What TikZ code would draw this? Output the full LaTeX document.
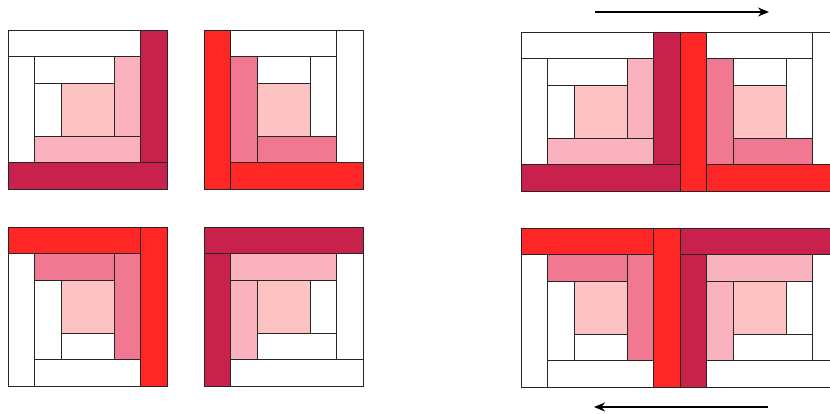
\documentclass[tikz,border=0pt]{standalone}
\usetikzlibrary{arrows.meta}
\definecolor{crim}{HTML}{C8214B}
\definecolor{bred}{HTML}{FF2626}
\definecolor{midp}{HTML}{F07890}
\definecolor{litp}{HTML}{F9B2BE}
\definecolor{ctrp}{HTML}{FDC3C3}
\tikzset{
  patch/.style={draw=black!85, line width=0.7pt},
  flow/.style={line width=1.6pt, -{Stealth[length=11pt,width=9pt]}}
}
\newcommand\patch[5]{\filldraw[patch, fill=#1] (#2,#3) rectangle (#4,#5);}
\newcommand\blockA[2]{\begin{scope}[shift={(#1,#2)}]\begin{scope}[scale=26.5]
 \patch{ctrp}{2}{2}{4}{4}
 \patch{white}{1}{2}{2}{4}
 \patch{white}{1}{1}{4}{2}
 \patch{litp}{4}{1}{5}{4}
 \patch{litp}{1}{4}{5}{5}
 \patch{white}{0}{1}{1}{5}
 \patch{white}{0}{0}{5}{1}
 \patch{crim}{5}{0}{6}{5}
 \patch{crim}{0}{5}{6}{6}
\end{scope}\end{scope}}
\newcommand\blockB[2]{\begin{scope}[shift={(#1,#2)}]\begin{scope}[scale=26.5]
 \patch{ctrp}{2}{2}{4}{4}
 \patch{white}{2}{1}{4}{2}
 \patch{white}{4}{1}{5}{4}
 \patch{midp}{2}{4}{5}{5}
 \patch{midp}{1}{1}{2}{5}
 \patch{white}{1}{0}{5}{1}
 \patch{white}{5}{0}{6}{5}
 \patch{bred}{1}{5}{6}{6}
 \patch{bred}{0}{0}{1}{6}
\end{scope}\end{scope}}
\newcommand\blockC[2]{\begin{scope}[shift={(#1,#2)}]\begin{scope}[scale=26.5]
 \patch{ctrp}{2}{2}{4}{4}
 \patch{white}{1}{2}{2}{5}
 \patch{white}{2}{4}{4}{5}
 \patch{midp}{1}{1}{4}{2}
 \patch{midp}{4}{1}{5}{5}
 \patch{white}{0}{1}{1}{6}
 \patch{white}{1}{5}{5}{6}
 \patch{bred}{0}{0}{5}{1}
 \patch{bred}{5}{0}{6}{6}
\end{scope}\end{scope}}
\newcommand\blockD[2]{\begin{scope}[shift={(#1,#2)}]\begin{scope}[scale=26.5]
 \patch{ctrp}{2}{2}{4}{4}
 \patch{white}{4}{2}{5}{4}
 \patch{white}{2}{4}{5}{5}
 \patch{litp}{1}{1}{5}{2}
 \patch{litp}{1}{2}{2}{5}
 \patch{white}{5}{1}{6}{5}
 \patch{white}{1}{5}{6}{6}
 \patch{crim}{0}{0}{6}{1}
 \patch{crim}{0}{1}{1}{6}
\end{scope}\end{scope}}
\begin{document}
\begin{tikzpicture}[x=1pt,y=-1pt]
 \useasboundingbox (0,0) rectangle (830,414);
 \clip (0,0) rectangle (830,414);
 \fill[white] (0,0) rectangle (830,414);
 \blockA{8}{30}
 \blockB{204}{30}
 \blockC{8}{227}
 \blockD{204}{227}
 \blockA{521}{32}
 \blockB{680}{32}
 \blockC{521}{228}
 \blockD{680}{228}
 \coordinate (ta) at (595,12);
 \coordinate (tb) at (769,12);
 \coordinate (ba) at (768,407);
 \coordinate (bb) at (594,407);
 \draw[flow] (ta) -- (tb);
 \draw[flow] (ba) -- (bb);
\end{tikzpicture}
\end{document}
